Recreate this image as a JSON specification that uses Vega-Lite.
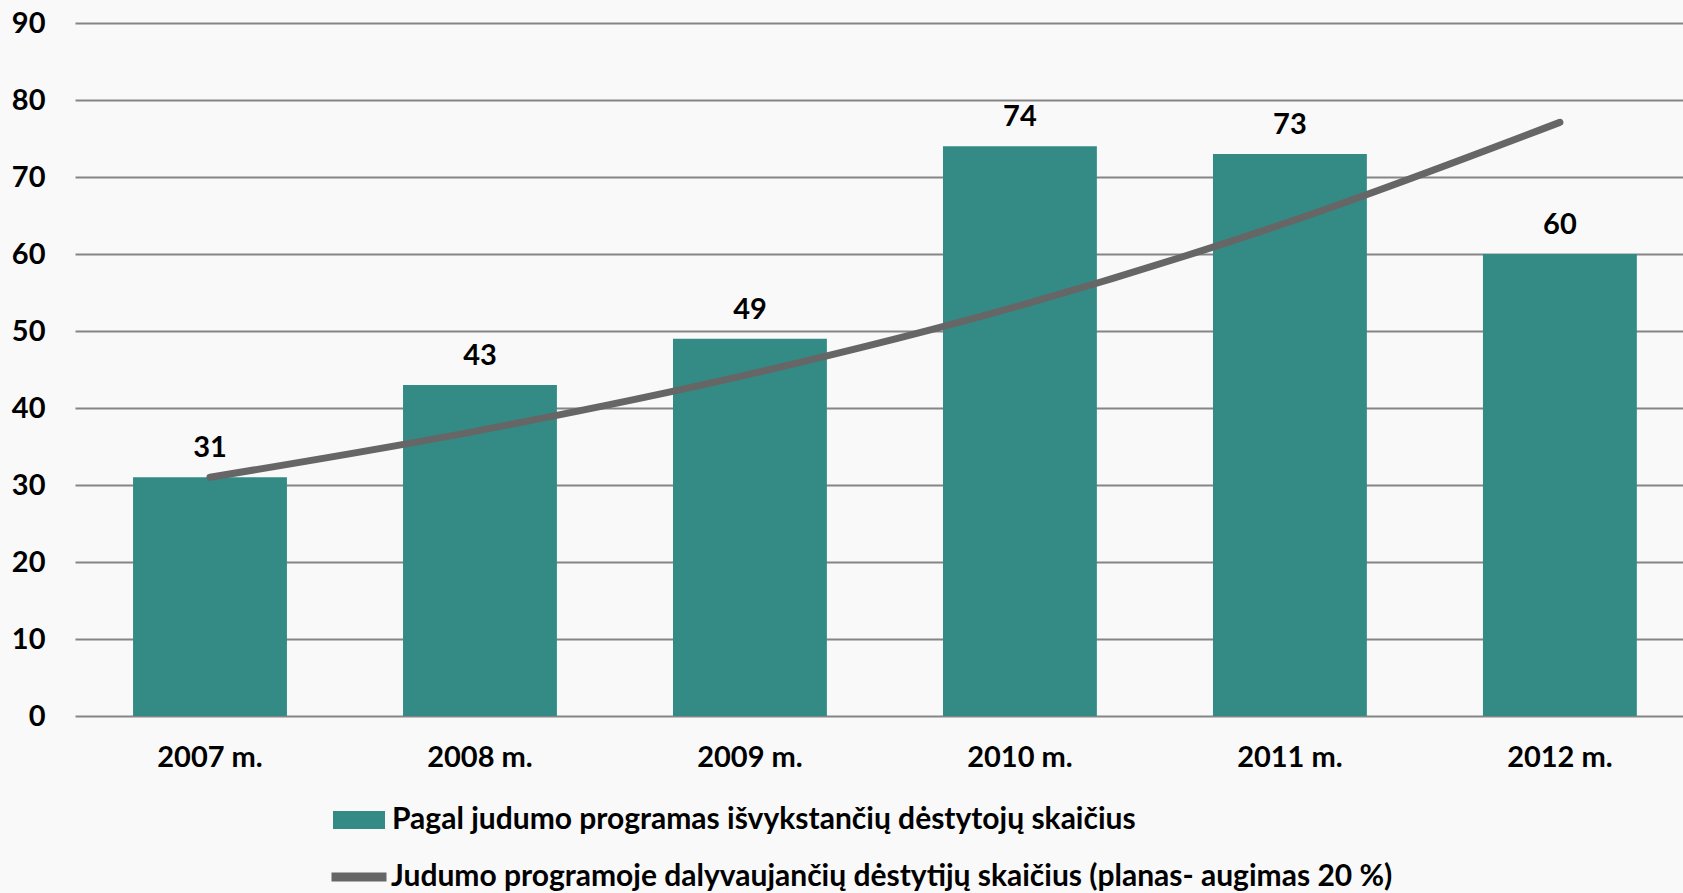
{
  "$schema": "https://vega.github.io/schema/vega-lite/v6.json",
  "autosize": {"type": "none"},
  "padding": {"left": 75, "top": 23, "right": 0, "bottom": 177},
  "width": 1608,
  "height": 693,
  "background": "#f9f9f9",
  "config": {
    "view": {"stroke": null},
    "font": "Lato",
    "axis": {"labelFont": "Lato", "labelFontWeight": "bold", "labelColor": "#000000", "labelFontSize": 29, "title": null, "domain": false, "ticks": false},
    "legend": {"labelFont": "Lato", "labelFontWeight": "bold", "labelColor": "#000000", "labelFontSize": 30, "labelLimit": 2000, "padding": 0, "offset": 0}
  },
  "data": {
    "values": [
      {"year": "2007 m.", "count": 31, "plan": 31},
      {"year": "2008 m.", "count": 43, "plan": 37.1},
      {"year": "2009 m.", "count": 49, "plan": 44.4},
      {"year": "2010 m.", "count": 74, "plan": 53.3},
      {"year": "2011 m.", "count": 73, "plan": 64.2},
      {"year": "2012 m.", "count": 60, "plan": 77.1}
    ]
  },
  "encoding": {
    "x": {
      "field": "year",
      "type": "nominal",
      "sort": null,
      "scale": {"paddingInner": 0.43, "paddingOuter": 0.193, "align": 0.557},
      "axis": {"labelAngle": 0, "labelPadding": 27, "grid": false}
    }
  },
  "layer": [
    {
      "mark": {"type": "bar"},
      "encoding": {
        "y": {
          "field": "count",
          "type": "quantitative",
          "scale": {"domain": [0, 90], "nice": false},
          "axis": {"values": [0, 10, 20, 30, 40, 50, 60, 70, 80, 90], "grid": true, "gridColor": "#858585", "gridWidth": 2, "labelPadding": 30}
        },
        "fill": {
          "datum": "Pagal judumo programas išvykstančių dėstytojų skaičius",
          "type": "nominal",
          "scale": {"range": ["#348B86"]},
          "legend": {
            "title": null,
            "orient": "none",
            "legendX": 258,
            "legendY": 771,
            "symbolType": "M-1,-0.35H1V0.35H-1Z",
            "symbolSize": 2704,
            "symbolStrokeWidth": 0,
            "symbolOpacity": 1,
            "labelOffset": 7
          }
        }
      }
    },
    {
      "mark": {"type": "line", "interpolate": "monotone", "strokeWidth": 7, "strokeCap": "round"},
      "encoding": {
        "y": {"field": "plan", "type": "quantitative"},
        "stroke": {
          "datum": "Judumo programoje dalyvaujančių dėstytijų skaičius (planas- augimas 20 %)",
          "type": "nominal",
          "scale": {"range": ["#666666"]},
          "legend": {
            "title": null,
            "orient": "none",
            "legendX": 252,
            "legendY": 822,
            "symbolType": "stroke",
            "symbolSize": 3025,
            "symbolStrokeWidth": 9,
            "labelOffset": 0
          }
        }
      }
    },
    {
      "mark": {"type": "text", "font": "Lato", "fontWeight": "bold", "fontSize": 29, "color": "#000000", "baseline": "alphabetic", "dy": -20},
      "encoding": {
        "y": {"field": "count", "type": "quantitative"},
        "text": {"field": "count", "type": "quantitative"}
      }
    }
  ]
}
